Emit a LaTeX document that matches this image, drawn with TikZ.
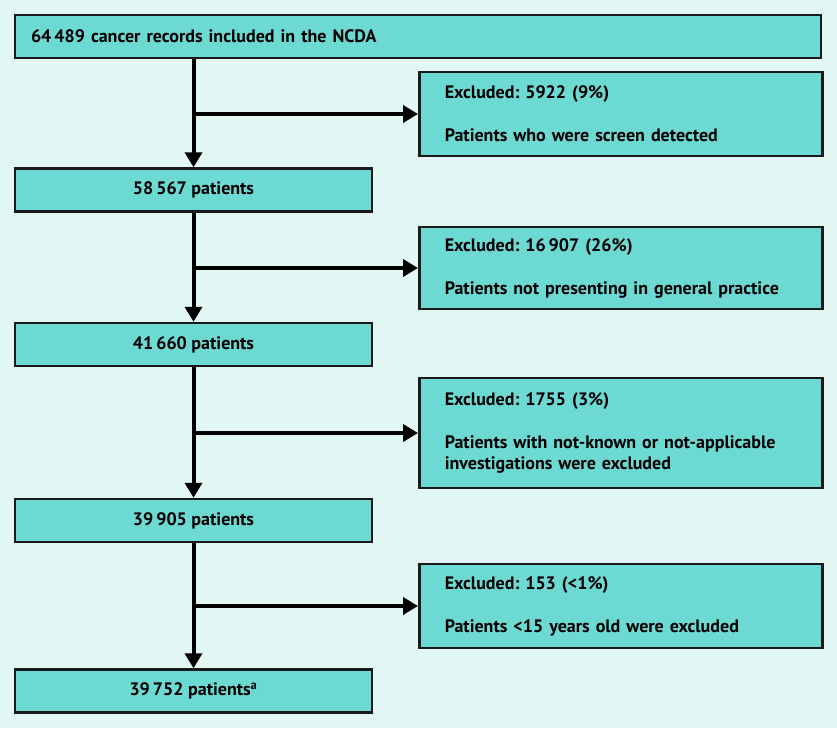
\documentclass[tikz,border=0pt]{standalone}
\usepackage{fontspec}
\setmainfont{PT Sans}
\usetikzlibrary{arrows.meta}
\definecolor{bgcyan}{HTML}{E2F6F4}
\definecolor{boxteal}{HTML}{6DD9D3}
\definecolor{boxline}{HTML}{1A1A1A}
\frenchspacing

\begin{document}
\begin{tikzpicture}[x=1pt, y=-1pt,
                    every node/.style={font=\fontsize{18}{21.5}\selectfont\bfseries},
                    stage/.style={draw=boxline, line width=2.5pt, fill=boxteal, minimum width=357pt, minimum height=43pt, inner sep=0pt},
                    exclbox/.style={draw=boxline, line width=2.5pt, fill=boxteal, anchor=west, text width=352pt, align=left, inner xsep=25.5pt, inner ysep=0pt},
                    flow/.style={line width=4pt, -{Triangle[length=15pt, width=17pt]}}
]
\useasboundingbox[fill=bgcyan] (0,0) rectangle (837,728);

\node [stage, minimum width=806pt, text width=774pt, align=left, inner xsep=16pt] at (418,36.5) (records) {64\,489 cancer records included in the NCDA};
\node [stage] at (193.5,190) (pat1) {58\,567 patients};
\node [stage] at (193.5,344.5) (pat2) {41\,660 patients};
\node [stage] at (193.5,520.5) (pat3) {39\,905 patients};
\node [stage] at (193.5,691) (pat4) {39\,752 patients\textsuperscript{a}};
%
\node [exclbox, minimum height=84pt] at (418,114) (excl1) {Excluded: 5922 (9\%)\\[21.5pt]Patients who were screen detected};
\node [exclbox, minimum height=82pt] at (418,268) (excl2) {Excluded: 16\,907 (26\%)\\[21.5pt]Patients not presenting in general practice};
\node [exclbox, minimum height=110pt] at (418,433) (excl3) {Excluded: 1755 (3\%)\\[21.5pt]Patients with not-known or not-applicable\\investigations were excluded};
\node [exclbox, minimum height=84pt] at (418,606) (excl4) {Excluded: 153 (<1\%)\\[21.5pt]Patients <15 years old were excluded};
%
\draw [flow] (pat1.north |- records.south) -- (pat1.north);
\draw [flow] (pat2.north |- pat1.south) -- (pat2.north);
\draw [flow] (pat3.north |- pat2.south) -- (pat3.north);
\draw [flow] (pat4.north |- pat3.south) -- (pat4.north);
%
\draw [flow] (pat1.north |- excl1.west) -- (excl1.west);
\draw [flow] (pat1.north |- excl2.west) -- (excl2.west);
\draw [flow] (pat1.north |- excl3.west) -- (excl3.west);
\draw [flow] (pat1.north |- excl4.west) -- (excl4.west);
\end{tikzpicture}
\end{document}
